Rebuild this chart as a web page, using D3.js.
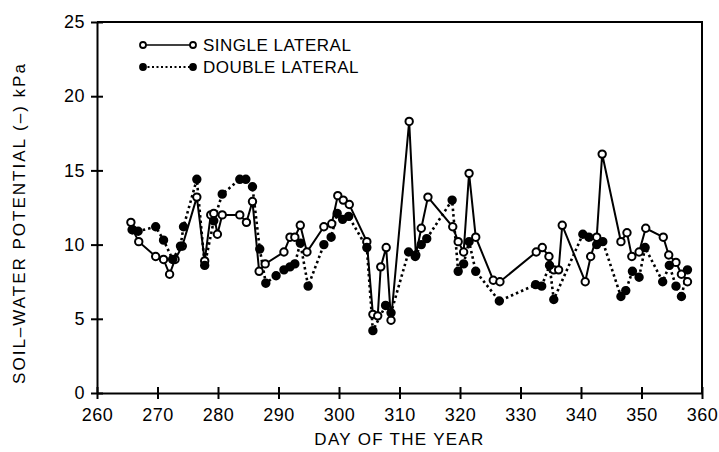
<!DOCTYPE html>
<html>
<head>
<meta charset="utf-8">
<script src="https://cdn.jsdelivr.net/npm/d3@7"></script>
<style>
  body { margin: 0; background: #fff; }
  svg { display: block; font-family: "Liberation Sans", Arial, sans-serif; }
  .axis path, .axis line { stroke: #000; stroke-width: 2; }
  .axis text { font-size: 18px; fill: #000; letter-spacing: 0.5px; }
  .axis-title { font-size: 17px; fill: #000; letter-spacing: 1.3px; }
  .legend-text { font-size: 17px; fill: #000; letter-spacing: 0.5px; }
</style>
</head>
<body>
<svg id="chart"></svg>
<script>
// Single lateral (open circles, solid line)
const singleDays = [265.6, 265.9, 266.9, 269.7, 271.0, 272.0, 272.9, 274.1, 276.5, 277.8,
  278.8, 279.3, 279.9, 280.7, 283.6, 284.7, 285.7, 286.8, 287.8, 290.9,
  291.9, 292.7, 293.6, 294.7, 297.5, 298.8, 299.8, 300.7, 301.7, 304.6,
  305.6, 306.4, 306.9, 307.8, 308.6, 311.6, 312.7, 313.6, 314.7, 318.8,
  319.7, 320.6, 321.5, 322.6, 325.5, 326.6, 332.6, 333.6, 334.7, 335.5,
  336.3, 336.9, 340.7, 341.6, 342.6, 343.5, 346.6, 347.6, 348.4, 349.6,
  350.7, 353.6, 354.5, 355.7, 356.6, 357.6];
const singleValues = [11.5, 11.0, 10.2, 9.2, 9.0, 8.0, 9.0, 9.9, 13.2, 8.9,
  12.0, 12.1, 10.7, 12.0, 12.0, 11.5, 12.9, 8.2, 8.7, 9.5,
  10.5, 10.5, 11.3, 9.5, 11.2, 11.4, 13.3, 13.0, 12.7, 10.2,
  5.3, 5.2, 8.5, 9.8, 4.9, 18.3, 9.3, 11.1, 13.2, 11.2,
  10.2, 9.5, 14.8, 10.5, 7.6, 7.5, 9.5, 9.8, 9.2, 8.3,
  8.3, 11.3, 7.5, 9.2, 10.5, 16.1, 10.2, 10.8, 9.2, 9.5,
  11.1, 10.5, 9.3, 8.8, 8.0, 7.5];

// Double lateral (filled circles, dotted line)
const doubleDays = [265.8, 266.8, 269.7, 271.0, 272.5, 273.8, 274.3, 276.5, 277.8, 279.3,
  280.7, 283.6, 284.6, 285.7, 286.9, 287.9, 289.6, 290.9, 291.9, 292.7,
  293.6, 294.9, 297.5, 298.7, 299.7, 300.6, 301.6, 304.6, 305.6, 307.7,
  308.6, 311.5, 312.6, 313.6, 314.5, 318.7, 319.7, 320.6, 321.5, 322.6,
  326.5, 332.5, 333.5, 334.8, 335.5, 340.3, 341.3, 342.6, 343.6, 346.6,
  347.4, 348.5, 349.6, 350.6, 353.5, 354.6, 355.7, 356.6, 357.6];
const doubleValues = [11.0, 10.9, 11.2, 10.3, 9.0, 9.9, 11.2, 14.4, 8.6, 11.6,
  13.4, 14.4, 14.4, 13.9, 9.7, 7.4, 7.9, 8.3, 8.5, 8.7,
  10.1, 7.2, 10.0, 10.5, 12.1, 11.7, 11.9, 9.8, 4.2, 5.9,
  5.4, 9.5, 9.2, 10.0, 10.4, 13.0, 8.2, 8.7, 10.2, 8.2,
  6.2, 7.3, 7.2, 8.6, 6.3, 10.7, 10.5, 10.0, 10.2, 6.5,
  6.9, 8.2, 7.8, 9.8, 7.5, 8.6, 7.2, 6.5, 8.3];

const xTicks = [260, 270, 280, 290, 300, 310, 320, 330, 340, 350, 360];
const yTicks = [0, 5, 10, 15, 20, 25];
const seriesNames = ['SINGLE LATERAL', 'DOUBLE LATERAL'];

class LineChart {

  constructor(_config) {
    this.config = {
      parentElement: _config.parentElement,
      containerWidth: _config.containerWidth || 719,
      containerHeight: _config.containerHeight || 452,
      margin: _config.margin || {top: 22, right: 17, bottom: 59, left: 97},
      radius: _config.radius || 3.7
    }
    this.series = [
      {name: seriesNames[0], filled: false, dash: null,
       points: singleDays.map((d, i) => ({day: d, value: singleValues[i]}))},
      {name: seriesNames[1], filled: true, dash: '2.5,3',
       points: doubleDays.map((d, i) => ({day: d, value: doubleValues[i]}))}
    ];
    this.initVis();
  }

  initVis() {
    let vis = this;

    vis.width = vis.config.containerWidth - vis.config.margin.left - vis.config.margin.right;
    vis.height = vis.config.containerHeight - vis.config.margin.top - vis.config.margin.bottom;

    vis.xScale = d3.scaleLinear()
        .domain([260, 360])
        .range([0, vis.width]);

    vis.yScale = d3.scaleLinear()
        .domain([0, 25])
        .range([vis.height, 0]);

    vis.xAxis = d3.axisBottom(vis.xScale)
        .tickValues(xTicks)
        .tickSize(6)
        .tickPadding(9)
        .tickSizeOuter(0);

    vis.yAxis = d3.axisLeft(vis.yScale)
        .tickValues(yTicks)
        .tickSize(6)
        .tickPadding(6)
        .tickSizeOuter(0);

    vis.svg = d3.select(vis.config.parentElement)
        .attr('width', vis.config.containerWidth)
        .attr('height', vis.config.containerHeight);

    vis.chart = vis.svg.append('g')
        .attr('transform', `translate(${vis.config.margin.left},${vis.config.margin.top})`);

    // frame: top and right edges
    vis.chart.append('path')
        .attr('d', `M0,0H${vis.width}V${vis.height}`)
        .attr('fill', 'none')
        .attr('stroke', '#000')
        .attr('stroke-width', 2);

    vis.chart.append('text')
        .attr('class', 'axis-title')
        .attr('x', vis.width / 2)
        .attr('y', vis.height + 52)
        .style('text-anchor', 'middle')
        .text('DAY OF THE YEAR');

    vis.svg.append('text')
        .attr('class', 'axis-title')
        .attr('transform', `translate(25,223) rotate(-90)`)
        .style('text-anchor', 'middle')
        .style('letter-spacing', '2px')
        .text('SOIL–WATER POTENTIAL (–) kPa');

    vis.renderVis();
  }

  renderVis() {
    let vis = this;
    const r = vis.config.radius;

    const xg = vis.chart.append('g')
        .attr('class', 'axis x-axis')
        .attr('transform', `translate(0,${vis.height})`)
        .call(vis.xAxis);
    xg.selectAll('.tick line').attr('y1', -6);

    const yg = vis.chart.append('g')
        .attr('class', 'axis y-axis')
        .call(vis.yAxis);
    yg.selectAll('.tick line').attr('x1', 6);

    const line = d3.line()
        .x(d => vis.xScale(d.day))
        .y(d => vis.yScale(d.value));

    vis.chart.selectAll('.series-line')
        .data(vis.series)
        .join('path')
        .attr('class', 'series-line')
        .attr('d', d => line(d.points))
        .attr('fill', 'none')
        .attr('stroke', '#000')
        .attr('stroke-width', d => d.filled ? 2.6 : 2)
        .attr('stroke-dasharray', d => d.dash);

    vis.series.forEach(s => {
      vis.chart.append('g')
        .selectAll('circle')
        .data(s.points)
        .join('circle')
          .attr('cx', d => vis.xScale(d.day))
          .attr('cy', d => vis.yScale(d.value))
          .attr('r', r)
          .attr('fill', s.filled ? '#000' : '#fff')
          .attr('stroke', '#000')
          .attr('stroke-width', 2);
    });

    // Legend
    const legend = vis.svg.append('g')
        .attr('transform', 'translate(143,45)');
    vis.series.forEach((s, i) => {
      const g = legend.append('g').attr('transform', `translate(0,${i * 22})`);
      g.append('line')
          .attr('x1', 0).attr('x2', 50)
          .attr('stroke', '#000')
          .attr('stroke-width', s.filled ? 2 : 1.6)
          .attr('stroke-dasharray', s.filled ? '2,2.5' : null);
      [0, 50].forEach(cx => g.append('circle')
          .attr('cx', cx).attr('r', 3)
          .attr('fill', s.filled ? '#000' : '#fff')
          .attr('stroke', '#000')
          .attr('stroke-width', 1.8));
      g.append('text')
          .attr('class', 'legend-text')
          .attr('x', 60)
          .attr('y', 6)
          .text(s.name);
    });
  }
}

new LineChart({parentElement: '#chart'});
</script>
</body>
</html>
